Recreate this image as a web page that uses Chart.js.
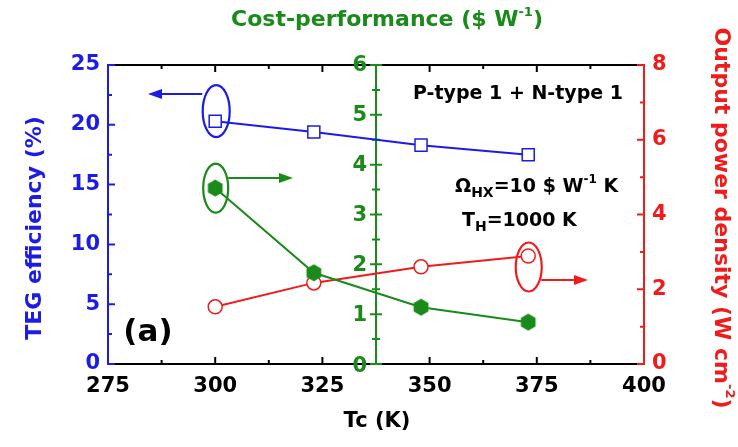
<!DOCTYPE html>
<html>
<head>
<meta charset="utf-8">
<script src="https://cdn.jsdelivr.net/npm/chart.js@4.4.1/dist/chart.umd.min.js"></script>
<style>
  html, body { margin: 0; padding: 0; background: #fff; }
  #wrap { width: 738px; height: 447px; }
</style>
</head>
<body>
<div id="wrap"><canvas id="grafica" width="738" height="447"></canvas></div>
<script>
// data
const tc = [300, 323, 348, 373];
const efficiency = [20.3, 19.4, 18.3, 17.5];      // TEG efficiency (%)
const costPerf = [3.53, 1.83, 1.14, 0.84];        // $ W^-1
const powerDensity = [1.53, 2.17, 2.60, 2.89];    // W cm^-2
const greenAxisAt = 337.5;                        // Tc where the cost axis sits

const BLUE = '#1c1ce6';
const GREEN = '#1a8a1a';
const RED = '#f01c1c';
const FONT = '"DejaVu Sans", "Liberation Sans", sans-serif';

// filled hexagon marker
const hex = document.createElement('canvas');
hex.width = 18; hex.height = 18;
(function () {
  const c = hex.getContext('2d');
  c.fillStyle = GREEN;
  c.beginPath();
  for (let i = 0; i < 6; i++) {
    const a = Math.PI / 6 + i * Math.PI / 3;
    const px = 9 + 8.5 * Math.cos(a), py = 9 + 8.5 * Math.sin(a);
    i ? c.lineTo(px, py) : c.moveTo(px, py);
  }
  c.closePath();
  c.fill();
})();

const pts = vals => tc.map((x, i) => ({ x: x, y: vals[i] }));

// draws text made of parts, some raised or lowered
function richText(c, parts, x, y, align) {
  let w = 0;
  parts.forEach(p => { c.font = 'bold ' + p.size + 'px ' + FONT; w += c.measureText(p.t).width; });
  let cx = align === 'center' ? x - w / 2 : (align === 'right' ? x - w : x);
  c.textAlign = 'left';
  c.textBaseline = 'middle';
  parts.forEach(p => {
    c.font = 'bold ' + p.size + 'px ' + FONT;
    c.fillText(p.t, cx, y + (p.dy || 0));
    cx += c.measureText(p.t).width;
  });
}

function arrow(c, x1, y, x2, color) {
  const dir = Math.sign(x2 - x1);
  c.strokeStyle = color; c.fillStyle = color; c.lineWidth = 2;
  c.beginPath(); c.moveTo(x1, y); c.lineTo(x2 - dir * 10, y); c.stroke();
  c.beginPath();
  c.moveTo(x2, y); c.lineTo(x2 - dir * 14, y - 5); c.lineTo(x2 - dir * 14, y + 5);
  c.closePath(); c.fill();
}

function ellipse(c, x, y, rx, ry, color) {
  c.strokeStyle = color; c.lineWidth = 2.2;
  c.beginPath(); c.ellipse(x, y, rx, ry, 0, 0, Math.PI * 2); c.stroke();
}

const frame = {
  id: 'frame',
  beforeDatasetsDraw(chart) {
    const c = chart.ctx, a = chart.chartArea, s = chart.scales;
    c.save();
    c.lineWidth = 2;
    // top and bottom, black
    c.strokeStyle = '#000';
    c.beginPath();
    c.moveTo(a.left, a.top); c.lineTo(a.right, a.top);
    c.moveTo(a.left, a.bottom); c.lineTo(a.right, a.bottom);
    for (let v = 275; v <= 400.01; v += 12.5) {
      const x = s.x.getPixelForValue(v);
      const len = (v % 25 === 0) ? 7 : 4;
      c.moveTo(x, a.bottom); c.lineTo(x, a.bottom - len);
      c.moveTo(x, a.top); c.lineTo(x, a.top + len);
    }
    c.stroke();
    // left, blue
    c.strokeStyle = BLUE;
    c.beginPath();
    c.moveTo(a.left, a.top - 1); c.lineTo(a.left, a.bottom + 1);
    for (let v = 0; v <= 25.01; v += 2.5) {
      const y = s.y.getPixelForValue(v);
      c.moveTo(a.left, y); c.lineTo(a.left + ((v % 5 === 0) ? 7 : 4), y);
    }
    c.stroke();
    // right, red
    c.strokeStyle = RED;
    c.beginPath();
    c.moveTo(a.right, a.top - 1); c.lineTo(a.right, a.bottom + 1);
    for (let v = 0; v <= 8.01; v += 1) {
      const y = s.yR.getPixelForValue(v);
      c.moveTo(a.right, y); c.lineTo(a.right - ((v % 2 === 0) ? 7 : 4), y);
    }
    c.stroke();
    // middle cost axis, green
    const gx = s.x.getPixelForValue(greenAxisAt);
    c.strokeStyle = GREEN;
    c.beginPath();
    c.moveTo(gx, a.top); c.lineTo(gx, a.bottom);
    for (let v = 0; v <= 6.01; v += 0.5) {
      const y = s.yC.getPixelForValue(v);
      const len = Number.isInteger(v) ? 6 : 4;
      c.moveTo(gx - len, y); c.lineTo(gx + len, y);
    }
    c.stroke();
    c.fillStyle = GREEN;
    c.font = 'bold 21px ' + FONT;
    c.textAlign = 'right';
    c.textBaseline = 'middle';
    s.yC.ticks.forEach(t => {
      const dy = t.value === 0 ? 3 : 1;
      c.fillText(String(t.value), gx - 9, s.yC.getPixelForValue(t.value) + dy);
    });
    c.restore();
  },
  afterDatasetsDraw(chart) {
    const c = chart.ctx, s = chart.scales;
    c.save();
    const x300 = s.x.getPixelForValue(tc[0]);
    const x373 = s.x.getPixelForValue(tc[3]);

    ellipse(c, x300 + 1, s.y.getPixelForValue(efficiency[0]) - 10, 13.5, 26, BLUE);
    arrow(c, x300 - 13, 94, 148, BLUE);

    ellipse(c, x300 + 0.5, s.yC.getPixelForValue(costPerf[0]), 12.5, 24.5, GREEN);
    arrow(c, x300 + 13, 178, 293, GREEN);

    ellipse(c, x373 + 0.5, s.yR.getPixelForValue(powerDensity[3]) + 11, 13, 24.5, RED);
    arrow(c, x373 + 13, 280, 588, RED);

    c.fillStyle = '#000';
    richText(c, [{ t: 'P-type 1 + N-type 1', size: 19 }], 518, 94, 'center');
    richText(c, [
      { t: 'Ω', size: 19 }, { t: 'HX', size: 14, dy: 6 },
      { t: '=10 $ W', size: 19 }, { t: '-1', size: 12, dy: -7 }, { t: ' K', size: 19 }
    ], 455, 187, 'left');
    richText(c, [
      { t: 'T', size: 19 }, { t: 'H', size: 14, dy: 6 }, { t: '=1000 K', size: 19 }
    ], 462, 221, 'left');
    richText(c, [{ t: '(a)', size: 31 }], 148, 333, 'center');

    // axis titles
    c.fillStyle = GREEN;
    richText(c, [{ t: 'Cost-performance ($ W', size: 22 }, { t: '-1', size: 13, dy: -7 }, { t: ')', size: 22 }], 387, 20, 'center');

    c.fillStyle = '#000';
    richText(c, [{ t: 'Tc (K)', size: 21 }], 377, 422, 'center');

    c.save();
    c.translate(35, 228);
    c.rotate(-Math.PI / 2);
    c.fillStyle = BLUE;
    richText(c, [{ t: 'TEG efficiency (%)', size: 22 }], 0, 0, 'center');
    c.restore();

    c.save();
    c.translate(721, 218);
    c.rotate(Math.PI / 2);
    c.fillStyle = RED;
    richText(c, [{ t: 'Output power density (W cm', size: 22 }, { t: '-2', size: 13, dy: -8 }, { t: ')', size: 22 }], 0, 0, 'center');
    c.restore();
    c.restore();
  }
};

const tickFont = { family: FONT, size: 21, weight: 'bold' };

new Chart(document.getElementById('grafica'), {
  type: 'scatter',
  data: {
    datasets: [
      {
        label: 'TEG efficiency',
        data: pts(efficiency),
        yAxisID: 'y',
        showLine: true,
        borderColor: BLUE,
        borderWidth: 2,
        pointStyle: 'rect',
        pointRadius: 8.5,
        pointBorderWidth: 1.5,
        pointBackgroundColor: '#fff',
        pointBorderColor: BLUE
      },
      {
        label: 'Cost-performance',
        data: pts(costPerf),
        yAxisID: 'yC',
        showLine: true,
        borderColor: GREEN,
        borderWidth: 2,
        pointStyle: hex,
        pointRadius: 9
      },
      {
        label: 'Output power density',
        data: pts(powerDensity),
        yAxisID: 'yR',
        showLine: true,
        borderColor: RED,
        borderWidth: 2,
        pointStyle: 'circle',
        pointRadius: 7,
        pointBorderWidth: 1.5,
        pointBackgroundColor: '#fff',
        pointBorderColor: RED
      }
    ]
  },
  options: {
    responsive: false,
    animation: false,
    layout: { padding: { top: 65, left: 0, right: 0, bottom: 0 } },
    scales: {
      x: {
        type: 'linear', min: 275, max: 400,
        ticks: { stepSize: 25, color: '#000', font: tickFont, padding: 10 },
        grid: { display: false, drawTicks: false },
        border: { display: false },
        afterFit: s => { s.height = 83; }
      },
      y: {
        position: 'left', min: 0, max: 25,
        ticks: { stepSize: 5, color: BLUE, font: tickFont, padding: 8 },
        grid: { display: false, drawTicks: false },
        border: { display: false },
        afterFit: s => { s.width = 108; }
      },
      yC: {
        display: false, min: 0, max: 6,
        ticks: { stepSize: 1 }
      },
      yR: {
        position: 'right', min: 0, max: 8,
        ticks: { stepSize: 2, color: RED, font: tickFont, padding: 8 },
        grid: { display: false, drawTicks: false },
        border: { display: false },
        afterFit: s => { s.width = 94; }
      }
    },
    plugins: {
      legend: { display: false },
      tooltip: { enabled: false }
    }
  },
  plugins: [frame]
});
</script>
</body>
</html>
